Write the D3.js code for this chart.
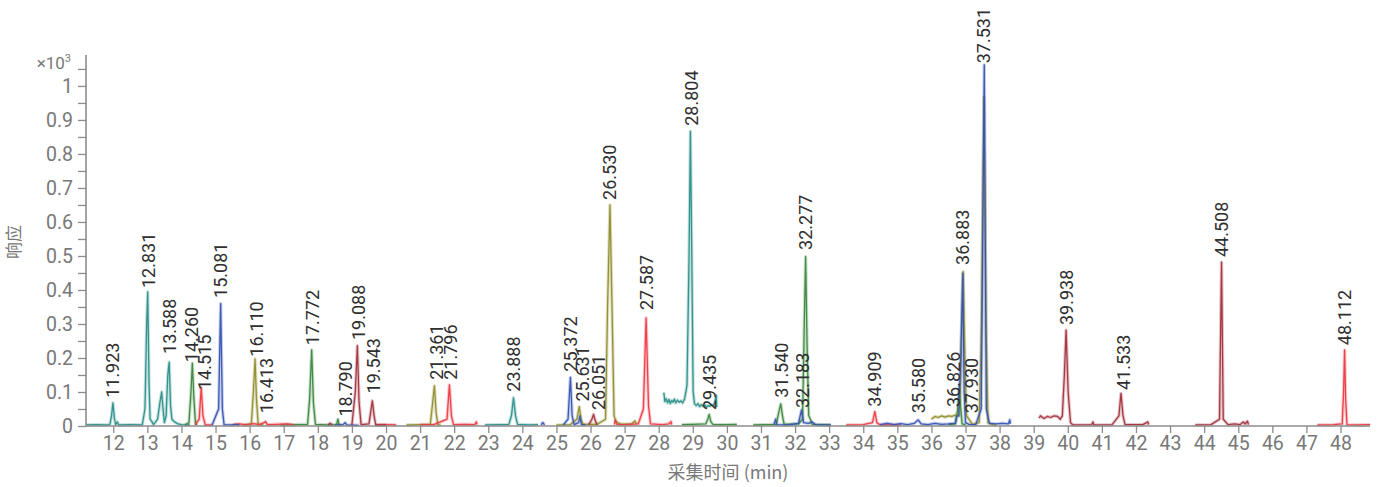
<!DOCTYPE html>
<html><head><meta charset="utf-8">
<script src="https://cdn.jsdelivr.net/npm/d3@7"></script>
<style>
html,body{margin:0;padding:0;background:#fff;}
svg{display:block;font-family:Roboto,"Noto Sans CJK SC",sans-serif;}
</style></head>
<body><svg id="chart" width="1377" height="487"></svg>
<script>
// ---------- data (time in min, response ×10³) ----------
const xTicks = d3.range(12, 49, 1);
const yTicks = [0,0.1,0.2,0.3,0.4,0.5,0.6,0.7,0.8,0.9,1];
const yTickLabels = ["0","0.1","0.2","0.3","0.4","0.5","0.6","0.7","0.8","0.9","1"];
const yMinorTicks = [0.05,0.15,0.25,0.35,0.45,0.55,0.65,0.75,0.85,0.95,1.05];

const seriesNames = ["teal","green","olive","red","blue","maroon"];
const seriesColors = ["#2b8f8a","#3a883c","#8f8d2c","#ee3a44","#3553b3","#a3303d"];

const tealTrace = [[11.2,0.003],[11.5,0.004],[11.8,0.003],[11.9,0.004],[11.95,0.03],[11.99,0.068],[12.03,0.025],[12.07,0.004],[12.12,0.012],[12.16,0.003],[12.5,0.004],[12.85,0.003],[12.93,0.05],[12.98,0.3],[13.01,0.394],[13.05,0.12],[13.08,0.02],[13.12,0.015],[13.18,0.004],[13.3,0.02],[13.37,0.07],[13.42,0.10],[13.46,0.05],[13.5,0.01],[13.55,0.03],[13.6,0.15],[13.64,0.188],[13.68,0.06],[13.72,0.02],[13.8,0.012],[13.9,0.006],[14.0,0.004],[14.25,0.003],null,
[22.9,0.003],[23.3,0.004],[23.6,0.004],[23.68,0.03],[23.74,0.083],[23.8,0.03],[23.86,0.005],[24.2,0.003],[24.46,0.004],null,
[28.15,0.098],[28.18,0.072],[28.22,0.08],[28.26,0.068],[28.3,0.078],[28.34,0.066],[28.38,0.075],[28.42,0.07],[28.46,0.079],[28.5,0.068],[28.55,0.076],[28.6,0.07],[28.65,0.074],[28.7,0.068],[28.76,0.08],[28.83,0.12],[28.89,0.5],[28.93,0.866],[28.97,0.5],[29.01,0.1],[29.05,0.065],[29.1,0.06],[29.15,0.066],[29.2,0.057],[29.25,0.063],[29.3,0.058],[29.35,0.062],[29.4,0.056],[29.45,0.06],[29.5,0.058],[29.55,0.062],[29.6,0.06],[29.65,0.07],[29.68,0.09],[29.69,0.09],[29.7,0.055]];

const greenTrace = [[14.1,0.003],[14.22,0.01],[14.28,0.1],[14.32,0.185],[14.36,0.09],[14.41,0.01],[14.45,0.003],null,
[16.9,0.003],[17.3,0.004],[17.7,0.005],[17.76,0.08],[17.82,0.224],[17.87,0.07],[17.93,0.005],[18.3,0.003],[18.55,0.004],[18.59,0.02],[18.62,0.003],[18.7,0.003],null,
[28.68,0.004],[29.0,0.005],[29.38,0.006],[29.44,0.02],[29.48,0.034],[29.53,0.012],[29.6,0.004],[30.0,0.004],[30.29,0.005],null,
[30.77,0.003],[31.2,0.004],[31.45,0.005],[31.52,0.04],[31.58,0.065],[31.63,0.03],[31.68,0.005],[32.1,0.006],[32.22,0.02],[32.27,0.3],[32.31,0.498],[32.35,0.25],[32.4,0.03],[32.45,0.02],[32.5,0.005],[32.8,0.004],[33.05,0.003],null,
[36.5,0.004],[36.7,0.006],[36.77,0.05],[36.82,0.12],[36.86,0.05],[36.9,0.006],[37.0,0.003]];

const oliveTrace = [[15.8,0.003],[16.05,0.006],[16.11,0.1],[16.16,0.197],[16.2,0.08],[16.25,0.006],[16.4,0.003],null,
[20.6,0.003],[21.0,0.004],[21.3,0.005],[21.36,0.06],[21.42,0.118],[21.47,0.04],[21.52,0.004],[21.6,0.003],null,
[25.0,0.003],[25.4,0.004],[25.6,0.02],[25.67,0.057],[25.72,0.02],[25.78,0.005],[26.2,0.005],[26.44,0.02],[26.5,0.35],[26.57,0.65],[26.63,0.35],[26.69,0.03],[26.75,0.012],[26.9,0.005],[27.2,0.006],[27.3,0.015],[27.35,0.006],null,
[36.0,0.02],[36.1,0.028],[36.2,0.025],[36.3,0.03],[36.4,0.026],[36.5,0.03],[36.6,0.028],[36.7,0.032],[36.8,0.03],[36.86,0.15],[36.93,0.454],[36.98,0.2],[37.03,0.03],[37.1,0.02],[37.2,0.005],[37.4,0.01],[37.47,0.3],[37.54,0.968],[37.6,0.3],[37.66,0.01],[37.8,0.004],[37.9,0.003]];

const redTrace = [[14.4,0.003],[14.52,0.02],[14.58,0.113],[14.63,0.03],[14.7,0.003],[14.9,0.003],null,
[15.5,0.004],[15.7,0.006],[15.9,0.003],[16.1,0.007],[16.3,0.004],[16.42,0.01],[16.47,0.013],[16.52,0.004],[16.8,0.005],[17.1,0.006],[17.3,0.003],null,
[19.7,0.003],[20.0,0.004],[20.3,0.003],null,
[21.0,0.004],[21.4,0.004],[21.79,0.02],[21.86,0.121],[21.92,0.03],[21.98,0.004],[22.3,0.005],[22.6,0.004],[22.65,0.012],[22.67,0.004],null,
[26.7,0.004],[26.73,0.018],[26.77,0.005],[27.0,0.004],[27.4,0.006],[27.55,0.05],[27.63,0.318],[27.7,0.06],[27.76,0.006],[28.1,0.004],[28.3,0.006],[28.36,0.013],[28.38,0.004],null,
[33.5,0.003],[34.0,0.004],[34.27,0.01],[34.34,0.042],[34.4,0.01],[34.5,0.003],[35.1,0.003],null,
[47.32,0.003],[47.8,0.004],[48.05,0.006],[48.09,0.1],[48.12,0.224],[48.15,0.08],[48.19,0.004],[48.5,0.003],[48.87,0.004]];

const blueTrace = [[14.9,0.003],[15.09,0.05],[15.15,0.36],[15.2,0.05],[15.25,0.004],[15.5,0.003],[15.6,0.005],[15.7,0.003],null,
[18.5,0.003],[18.74,0.004],[18.8,0.01],[18.85,0.003],[19.2,0.002],null,
[24.55,0.003],[24.6,0.01],[24.65,0.003],null,
[25.2,0.003],[25.34,0.02],[25.41,0.143],[25.46,0.03],[25.52,0.004],[25.65,0.01],[25.69,0.03],[25.73,0.005],[25.85,0.003],null,
[31.38,0.004],[31.43,0.02],[31.46,0.004],[31.8,0.003],[32.1,0.008],[32.19,0.047],[32.25,0.01],[32.4,0.008],[32.5,0.012],[32.6,0.004],[33.05,0.003],null,
[34.5,0.004],[34.7,0.008],[34.9,0.004],[35.1,0.007],[35.3,0.004],[35.5,0.008],[35.61,0.018],[35.7,0.006],[35.9,0.004],[36.1,0.008],[36.3,0.005],[36.5,0.006],[36.7,0.008],[36.75,0.03],[36.8,0.03],[36.86,0.2],[36.92,0.449],[36.96,0.1],[37.0,0.01],[37.1,0.005],[37.3,0.004],[37.46,0.05],[37.55,1.062],[37.61,0.05],[37.7,0.008],[37.9,0.006],[38.1,0.008],[38.25,0.006],[38.3,0.018],[38.31,0.006]];

const maroonTrace = [[18.3,0.003],[18.36,0.008],[18.42,0.003],null,
[19.0,0.003],[19.1,0.1],[19.16,0.236],[19.21,0.07],[19.27,0.004],[19.5,0.006],[19.55,0.04],[19.6,0.074],[19.65,0.03],[19.7,0.003],[20.0,0.003],null,
[25.95,0.004],[26.04,0.02],[26.09,0.034],[26.14,0.015],[26.2,0.003],null,
[39.16,0.023],[39.2,0.03],[39.3,0.022],[39.4,0.028],[39.5,0.025],[39.6,0.03],[39.7,0.028],[39.78,0.02],[39.84,0.03],[39.9,0.15],[39.95,0.282],[40.01,0.1],[40.08,0.01],[40.15,0.003],[40.7,0.004],[40.74,0.012],[40.76,0.003],[41.3,0.004],[41.5,0.03],[41.56,0.096],[41.62,0.03],[41.68,0.004],[42.2,0.004],[42.35,0.012],[42.37,0.004],null,
[43.74,0.003],[44.2,0.004],[44.45,0.02],[44.51,0.482],[44.56,0.02],[44.7,0.004],[44.9,0.006],[45.05,0.004],[45.15,0.012],[45.2,0.006],[45.27,0.014],[45.3,0.004]];

const traces = [tealTrace, greenTrace, oliveTrace, redTrace, blueTrace, maroonTrace];

const labelTexts = ["11.923","12.831","13.588","14.260","14.515","15.081","16.110","16.413","17.772","18.790","19.088","19.543","21.361","21.796","23.888","25.372","25.631","26.051","26.530","27.587","28.804","29.435","31.540","32.183","32.277","34.909","35.580","36.826","36.883","37.930","37.531","39.938","41.533","44.508","48.112"];
const labelTimes = [11.99,13.02,13.65,14.30,14.69,15.16,16.19,16.50,17.83,18.80,19.18,19.62,21.47,21.88,23.74,25.40,25.77,26.22,26.57,27.65,28.95,29.49,31.59,32.23,32.32,34.34,35.63,36.66,36.92,37.18,37.54,39.95,41.62,44.52,48.13];
const labelValues = [0.071,0.394,0.2,0.176,0.094,0.365,0.192,0.026,0.226,0.016,0.241,0.084,0.124,0.124,0.089,0.148,0.06,0.035,0.653,0.329,0.871,0.035,0.071,0.041,0.506,0.045,0.026,0.044,0.462,0.026,1.055,0.285,0.094,0.485,0.226];

// ---------- drawing ----------
const svg = d3.select("#chart");
const x = d3.scaleLinear().domain([11.2, 48.865]).range([86, 1370]);
const y = d3.scaleLinear().domain([0, 1.091]).range([426, 55]);
const axisColor = "#8c8c8c", textColor = "#787878";

// traces
const line = d3.line().defined(d => d !== null).x(d => x(d[0])).y(d => y(d[1]));
const plot = svg.append("g");
traces.forEach((tr, i) => {
  plot.append("path").attr("d", line(tr)).attr("fill","none")
    .attr("stroke", seriesColors[i]).attr("stroke-width", 3.4).attr("stroke-opacity", 0.28)
    .attr("stroke-linejoin","round");
});
traces.forEach((tr, i) => {
  plot.append("path").attr("d", line(tr)).attr("fill","none")
    .attr("stroke", seriesColors[i]).attr("stroke-width", 1.3).attr("stroke-opacity", 0.95)
    .attr("stroke-linejoin","round");
});

// y axis
const yAxis = d3.axisLeft(y).tickValues(yTicks).tickSize(8).tickPadding(5)
  .tickFormat((d,i) => yTickLabels[i]);
const gy = svg.append("g").attr("transform","translate(86,0)").call(yAxis);
gy.select(".domain").attr("d", `M0,${y(0)}V55`);
const gyMinor = svg.append("g").attr("transform","translate(86,0)")
  .call(d3.axisLeft(y).tickValues(yMinorTicks).tickSize(8).tickFormat(""));
gyMinor.select(".domain").remove();

// x axis
const xAxis = d3.axisBottom(x).tickValues(xTicks).tickSize(7).tickPadding(3).tickFormat(d3.format("d"));
const gx = svg.append("g").attr("transform",`translate(0,${y(0)})`).call(xAxis);
gx.select(".domain").attr("d","M86,0H1370");

[gy, gyMinor, gx].forEach(g => {
  g.attr("font-size", 19.5).attr("font-family","Roboto, sans-serif");
  g.selectAll(".domain").attr("stroke", axisColor).attr("stroke-width", 1.6);
  g.selectAll(".tick line").attr("stroke", axisColor).attr("stroke-width", 1.3);
  g.selectAll(".tick text").attr("fill", textColor).style("font-size", "19.5px");
});

// multiplier
const mult = svg.append("text").attr("x", 71).attr("y", 69).attr("text-anchor","end")
  .attr("fill", textColor).style("font-size", "17px").attr("font-family","Roboto, sans-serif");
mult.append("tspan").text("×10");
mult.append("tspan").attr("dy",-7).style("font-size","11px").text("3");

// axis titles
svg.append("text").attr("x", 728).attr("y", 479).attr("text-anchor","middle")
  .attr("fill", textColor).style("font-size", "18px")
  .attr("font-family","'Noto Sans CJK SC', Roboto, sans-serif").text("采集时间 (min)");
svg.append("text").attr("transform","translate(20,242) rotate(-90)").attr("text-anchor","middle")
  .attr("fill", textColor).style("font-size", "17px")
  .attr("font-family","'Noto Sans CJK SC', sans-serif").text("响应");

// peak labels
svg.append("g").selectAll("text").data(labelTexts).join("text")
  .attr("transform", (d,i) => `translate(${x(labelTimes[i])},${y(labelValues[i]) - 4}) rotate(-90)`)
  .attr("dy","0.36em").attr("text-anchor","start")
  .attr("fill","#2f2f2f").style("font-size", "18px").attr("font-family","Roboto, sans-serif")
  .text(d => d);
</script></body></html>
